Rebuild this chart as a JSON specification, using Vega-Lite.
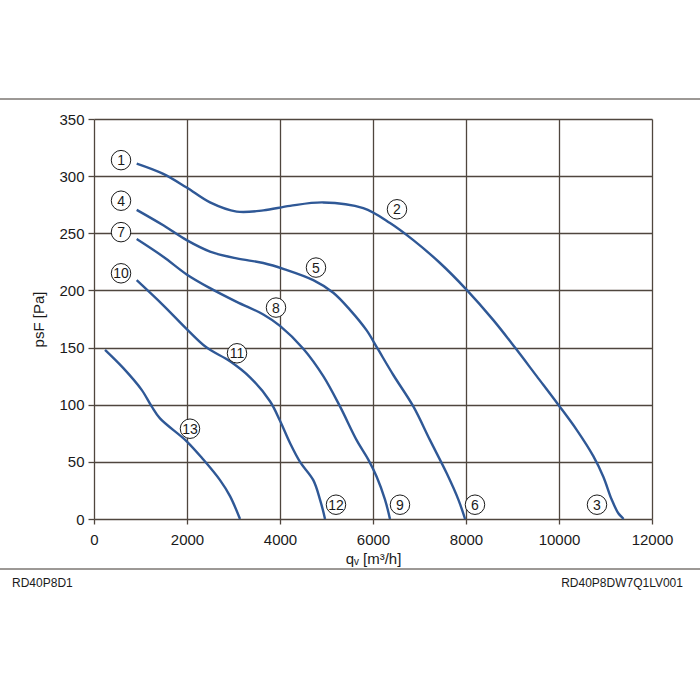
{
  "$schema": "https://vega.github.io/schema/vega-lite/v6.json",
  "width": 558,
  "height": 400,
  "autosize": {"type": "none"},
  "padding": {"left": 94, "top": 119, "right": 48, "bottom": 181},
  "background": "white",
  "config": {
    "view": {"stroke": null},
    "font": "Liberation Sans",
    "axis": {
      "labelFont": "Liberation Sans",
      "titleFont": "Liberation Sans",
      "labelFontSize": 15,
      "titleFontSize": 15,
      "titleFontWeight": "normal",
      "labelColor": "#1a1a1a",
      "titleColor": "#1a1a1a",
      "gridColor": "#4f463e",
      "gridWidth": 1.3,
      "gridOpacity": 1,
      "tickColor": "#4f463e",
      "tickWidth": 1.3,
      "labelFlush": false,
      "domain": false
    }
  },
  "datasets": {
    "curves": [
      {"curve": "A", "q": 918, "p": 311},
      {"curve": "A", "q": 1490, "p": 302},
      {"curve": "A", "q": 1993, "p": 290},
      {"curve": "A", "q": 2495, "p": 277},
      {"curve": "A", "q": 3068, "p": 269},
      {"curve": "A", "q": 3641, "p": 270},
      {"curve": "A", "q": 4215, "p": 274},
      {"curve": "A", "q": 4931, "p": 277},
      {"curve": "A", "q": 5791, "p": 272},
      {"curve": "A", "q": 6366, "p": 259},
      {"curve": "A", "q": 6867, "p": 244},
      {"curve": "A", "q": 7441, "p": 224},
      {"curve": "A", "q": 8015, "p": 200.5},
      {"curve": "A", "q": 8588, "p": 174},
      {"curve": "A", "q": 9054, "p": 150},
      {"curve": "A", "q": 9520, "p": 125},
      {"curve": "A", "q": 9985, "p": 100},
      {"curve": "A", "q": 10380, "p": 78},
      {"curve": "A", "q": 10738, "p": 55},
      {"curve": "A", "q": 10953, "p": 37},
      {"curve": "A", "q": 11133, "p": 17},
      {"curve": "A", "q": 11276, "p": 5},
      {"curve": "A", "q": 11390, "p": 0},
      {"curve": "B", "q": 918, "p": 270.5},
      {"curve": "B", "q": 1490, "p": 257},
      {"curve": "B", "q": 1993, "p": 244},
      {"curve": "B", "q": 2495, "p": 234},
      {"curve": "B", "q": 3068, "p": 228},
      {"curve": "B", "q": 3641, "p": 224},
      {"curve": "B", "q": 4100, "p": 218.5},
      {"curve": "B", "q": 4716, "p": 209},
      {"curve": "B", "q": 5146, "p": 198},
      {"curve": "B", "q": 5505, "p": 183},
      {"curve": "B", "q": 5864, "p": 165},
      {"curve": "B", "q": 6100, "p": 149},
      {"curve": "B", "q": 6437, "p": 126},
      {"curve": "B", "q": 6867, "p": 98.5},
      {"curve": "B", "q": 7226, "p": 69},
      {"curve": "B", "q": 7585, "p": 40},
      {"curve": "B", "q": 7836, "p": 17},
      {"curve": "B", "q": 7980, "p": 0},
      {"curve": "C", "q": 918, "p": 245},
      {"curve": "C", "q": 1490, "p": 229.5},
      {"curve": "C", "q": 1993, "p": 214},
      {"curve": "C", "q": 2495, "p": 202},
      {"curve": "C", "q": 3068, "p": 190},
      {"curve": "C", "q": 3641, "p": 179},
      {"curve": "C", "q": 4000, "p": 169},
      {"curve": "C", "q": 4501, "p": 149},
      {"curve": "C", "q": 4931, "p": 125},
      {"curve": "C", "q": 5290, "p": 98.5},
      {"curve": "C", "q": 5648, "p": 69},
      {"curve": "C", "q": 5899, "p": 52},
      {"curve": "C", "q": 6079, "p": 37},
      {"curve": "C", "q": 6258, "p": 17},
      {"curve": "C", "q": 6365, "p": 0},
      {"curve": "D", "q": 918, "p": 209},
      {"curve": "D", "q": 1490, "p": 187},
      {"curve": "D", "q": 2000, "p": 166},
      {"curve": "D", "q": 2423, "p": 150},
      {"curve": "D", "q": 2925, "p": 138},
      {"curve": "D", "q": 3355, "p": 124},
      {"curve": "D", "q": 3785, "p": 103},
      {"curve": "D", "q": 4000, "p": 86},
      {"curve": "D", "q": 4215, "p": 66.5},
      {"curve": "D", "q": 4430, "p": 50},
      {"curve": "D", "q": 4716, "p": 34},
      {"curve": "D", "q": 4860, "p": 17},
      {"curve": "D", "q": 4968, "p": 0},
      {"curve": "E", "q": 237, "p": 148},
      {"curve": "E", "q": 631, "p": 132},
      {"curve": "E", "q": 1025, "p": 113},
      {"curve": "E", "q": 1240, "p": 98.5},
      {"curve": "E", "q": 1419, "p": 88},
      {"curve": "E", "q": 1993, "p": 68},
      {"curve": "E", "q": 2351, "p": 52},
      {"curve": "E", "q": 2710, "p": 34},
      {"curve": "E", "q": 2925, "p": 20},
      {"curve": "E", "q": 3140, "p": 0}
    ],
    "labels": [
      {"num": "1", "q": 581, "p": 314},
      {"num": "2", "q": 6516, "p": 271},
      {"num": "3", "q": 10817, "p": 12.5},
      {"num": "4", "q": 581, "p": 278.5},
      {"num": "5", "q": 4774, "p": 220},
      {"num": "6", "q": 8193, "p": 12.5},
      {"num": "7", "q": 581, "p": 251},
      {"num": "8", "q": 3914, "p": 185},
      {"num": "9", "q": 6580, "p": 12.5},
      {"num": "10", "q": 581, "p": 215},
      {"num": "11", "q": 3075, "p": 145},
      {"num": "12", "q": 5204, "p": 12.5},
      {"num": "13", "q": 2064, "p": 79}
    ]
  },
  "layer": [
    {
      "data": {"name": "curves"},
      "mark": {"type": "line", "interpolate": "catmull-rom", "color": "#2f5896", "strokeWidth": 2.4},
      "encoding": {
        "x": {"field": "q", "type": "quantitative", "scale": {"domain": [0, 12000], "nice": false, "zero": false},
          "axis": {"grid": true, "values": [0, 2000, 4000, 6000, 8000, 10000, 12000], "title": "qᵥ [m³/h]", "tickSize": 5, "labelPadding": 8, "titlePadding": 4, "format": "d"}},
        "y": {"field": "p", "type": "quantitative", "scale": {"domain": [0, 350], "nice": false, "zero": false},
          "axis": {"grid": true, "values": [0, 50, 100, 150, 200, 250, 300, 350], "title": "psF [Pa]", "tickSize": 6, "labelPadding": 4, "titlePadding": 12}},
        "detail": {"field": "curve"}
      }
    },
    {
      "data": {"values": [{}]},
      "mark": {"type": "rule", "color": "#3a332d", "strokeWidth": 1},
      "encoding": {
        "x": {"datum": -2030, "type": "quantitative"},
        "x2": {"datum": 13040},
        "y": {"datum": 367.5, "type": "quantitative"}
      }
    },
    {
      "data": {"values": [{}]},
      "mark": {"type": "rule", "color": "#3a332d", "strokeWidth": 1},
      "encoding": {
        "x": {"datum": -2030, "type": "quantitative"},
        "x2": {"datum": 13040},
        "y": {"datum": -43.75, "type": "quantitative"}
      }
    },
    {
      "data": {"name": "labels"},
      "mark": {"type": "point", "shape": "circle", "size": 380, "filled": false, "fill": "white", "fillOpacity": 1, "stroke": "#1a1a1a", "strokeWidth": 1, "opacity": 1},
      "encoding": {
        "x": {"field": "q", "type": "quantitative"},
        "y": {"field": "p", "type": "quantitative"}
      }
    },
    {
      "data": {"name": "labels"},
      "mark": {"type": "text", "fontSize": 14, "color": "#1a1a1a", "baseline": "middle", "align": "center", "dy": 1},
      "encoding": {
        "x": {"field": "q", "type": "quantitative"},
        "y": {"field": "p", "type": "quantitative"},
        "text": {"field": "num"}
      }
    },
    {
      "data": {"values": [{}]},
      "mark": {"type": "text", "fontSize": 12, "color": "#1a1a1a", "align": "left", "baseline": "middle"},
      "encoding": {
        "x": {"datum": -1763, "type": "quantitative"},
        "y": {"datum": -56, "type": "quantitative"},
        "text": {"value": "RD40P8D1"}
      }
    },
    {
      "data": {"values": [{}]},
      "mark": {"type": "text", "fontSize": 12, "color": "#1a1a1a", "align": "right", "baseline": "middle"},
      "encoding": {
        "x": {"datum": 12666, "type": "quantitative"},
        "y": {"datum": -56, "type": "quantitative"},
        "text": {"value": "RD40P8DW7Q1LV001"}
      }
    }
  ]
}
